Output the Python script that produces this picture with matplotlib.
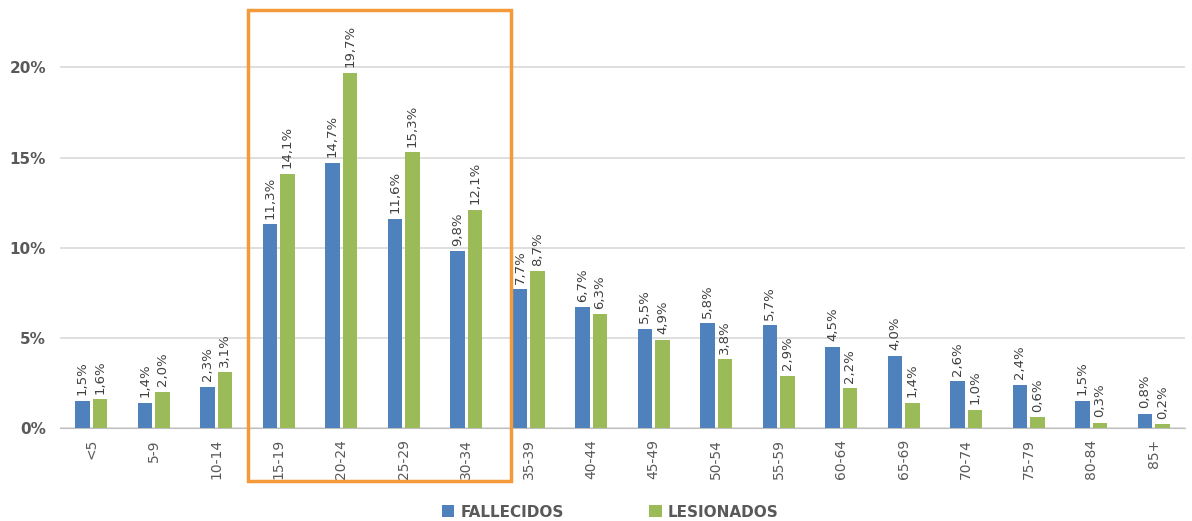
import numpy as np
import matplotlib.pyplot as plt
from matplotlib.patches import Rectangle

# age groups and shares (%)
grupos = ['<5', '5-9', '10-14', '15-19', '20-24', '25-29', '30-34', '35-39', '40-44',
          '45-49', '50-54', '55-59', '60-64', '65-69', '70-74', '75-79', '80-84', '85+']
fallecidos = [1.5, 1.4, 2.3, 11.3, 14.7, 11.6, 9.8, 7.7, 6.7, 5.5, 5.8, 5.7, 4.5, 4.0, 2.6, 2.4, 1.5, 0.8]
lesionados = [1.6, 2.0, 3.1, 14.1, 19.7, 15.3, 12.1, 8.7, 6.3, 4.9, 3.8, 2.9, 2.2, 1.4, 1.0, 0.6, 0.3, 0.2]
yticks = [0, 5, 10, 15, 20]

azul = '#4F81BD'
verde = '#9BBB59'
gris = '#595959'

fig = plt.figure(figsize=(11.92, 5.21), dpi=100)
ax = fig.add_axes([0.0503, 0.1785, 0.9437, 0.7925])

x = np.arange(len(grupos))
w = 0.23
off = 0.14
b1 = ax.bar(x - off, fallecidos, w, color=azul, label='FALLECIDOS', zorder=3)
b2 = ax.bar(x + off, lesionados, w, color=verde, label='LESIONADOS', zorder=3)

# data labels
for bars, vals in ((b1, fallecidos), (b2, lesionados)):
    for rect, v in zip(bars, vals):
        ax.annotate(f'{v:.1f}%'.replace('.', ','),
                    (rect.get_x() + rect.get_width() / 2, rect.get_height()),
                    xytext=(0, 4), textcoords='offset points',
                    rotation=90, ha='center', va='bottom', fontsize=9.5, color='#404040')

ax.set_xlim(-0.5, len(grupos) - 0.5)
ax.set_ylim(0, 22.9)
ax.set_yticks(yticks)
ax.set_yticklabels([f'{t}%' for t in yticks], fontsize=11, fontweight='bold', color=gris)
ax.set_xticks(x)
ax.set_xticklabels(grupos, rotation=90, fontsize=10, color=gris)
ax.tick_params(axis='both', length=0)
ax.tick_params(axis='x', pad=8)
ax.tick_params(axis='y', pad=10)
ax.grid(axis='y', color='#D9D9D9', linewidth=1.2, zorder=0)
for s in ['top', 'right', 'left']:
    ax.spines[s].set_visible(False)
ax.spines['bottom'].set_color('#BFBFBF')

# orange highlight box (figure coordinates)
W, H = 1192, 521
fig.patches.append(Rectangle((248 / W, 1 - 481 / H), (511 - 248) / W, (481 - 10) / H,
                             transform=fig.transFigure, fill=False,
                             edgecolor='#F59A3B', linewidth=2.5, zorder=10))

leg = fig.legend(loc='center', bbox_to_anchor=(0.512, 0.017), ncol=2, frameon=False,
                 handlelength=0.8, handleheight=0.8, handletextpad=0.4,
                 columnspacing=5.6, prop={'size': 11, 'weight': 'bold'})
for t in leg.get_texts():
    t.set_color(gris)

fig.savefig('out.png', dpi=100)
